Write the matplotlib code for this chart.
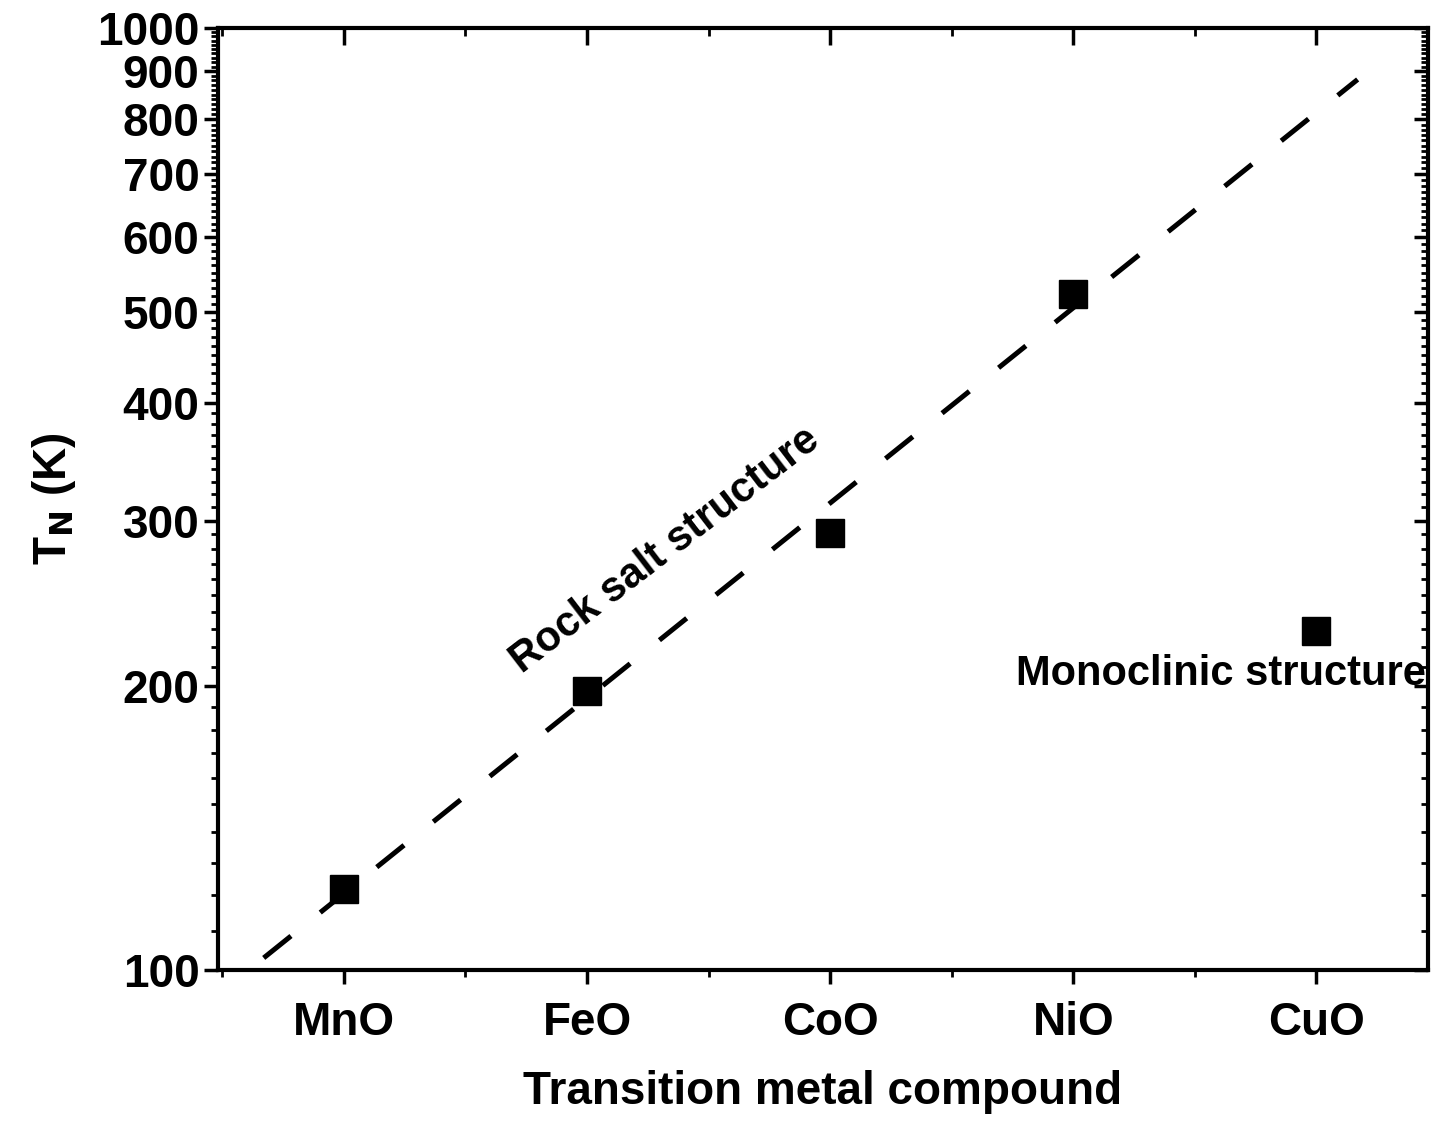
import matplotlib
matplotlib.use("Agg")
import matplotlib.pyplot as plt
from matplotlib.ticker import FixedLocator, NullFormatter

# compounds and Neel temperatures
compounds = ["MnO", "FeO", "CoO", "NiO", "CuO"]
tn_values = [122, 198, 291, 522, 229]

# dashed guide line for the rock salt compounds (end points)
fit_x = [-0.33, 4.17]
fit_t = [103, 882]

y_ticks = [100, 200, 300, 400, 500, 600, 700, 800, 900, 1000]
y_minor = [t for t in range(110, 1000, 10) if t % 100 != 0]
x_minor = [-0.5, 0.5, 1.5, 2.5, 3.5]

plt.rcParams['font.family'] = ['Liberation Sans', 'DejaVu Sans']
plt.rcParams['font.weight'] = 'bold'
plt.rcParams['mathtext.default'] = 'bf'

fig = plt.figure(figsize=(14.31, 11.24), dpi=100)
ax = fig.add_axes([0.152, 0.137, 0.846, 0.838])

x = list(range(len(compounds)))
ax.plot(fit_x, fit_t, color="black", lw=3.6, dashes=(7, 7.5), zorder=2)
ax.plot(x, tn_values, ls="none", marker="s", ms=19.5, color="black", zorder=3)

ax.set_yscale("log")
ax.set_ylim(100, 1000)
ax.set_xlim(-0.52, 4.46)

ax.yaxis.set_major_locator(FixedLocator(y_ticks))
ax.yaxis.set_minor_locator(FixedLocator(y_minor))
ax.set_yticklabels([str(t) for t in y_ticks])
ax.yaxis.set_minor_formatter(NullFormatter())

ax.set_xticks(x)
ax.set_xticklabels(compounds)
ax.xaxis.set_minor_locator(FixedLocator(x_minor))

for s in ax.spines.values():
    s.set_linewidth(3)

ax.tick_params(axis="both", which="major", labelsize=33, width=2.5, length=10, direction="out")
ax.tick_params(axis="both", which="minor", width=2, length=5, direction="out")
ax.tick_params(axis="x", which="major", pad=12)
ax.tick_params(axis="y", which="major", pad=3)

# inward ticks on top and right
ax2 = ax.secondary_xaxis("top")
ax2.set_xticks(x)
ax2.set_xticklabels([])
ax2.xaxis.set_minor_locator(FixedLocator(x_minor))
ax2.tick_params(which="major", direction="in", length=12, width=2.5)
ax2.tick_params(which="minor", direction="in", length=6, width=2)
ay2 = ax.secondary_yaxis("right")
ay2.set_yticks(y_ticks)
ay2.set_yticklabels([])
ay2.yaxis.set_minor_locator(FixedLocator(y_minor))
ay2.yaxis.set_minor_formatter(NullFormatter())
ay2.tick_params(which="major", direction="in", length=10, width=2.5)
ay2.tick_params(which="minor", direction="in", length=5, width=2)

ax.set_xlabel("Transition metal compound", fontsize=33, fontweight="bold", labelpad=18)
ax.set_ylabel("T$_{N}$ (K)", fontsize=33, fontweight="bold", labelpad=14)

ax.text(1.32, 279, "Rock salt structure", fontsize=30, rotation=37.5,
        ha="center", va="center")
ax.text(4.45, 206, "Monoclinic structure", fontsize=30, ha="right", va="center")

fig.savefig("out.png", dpi=100)
